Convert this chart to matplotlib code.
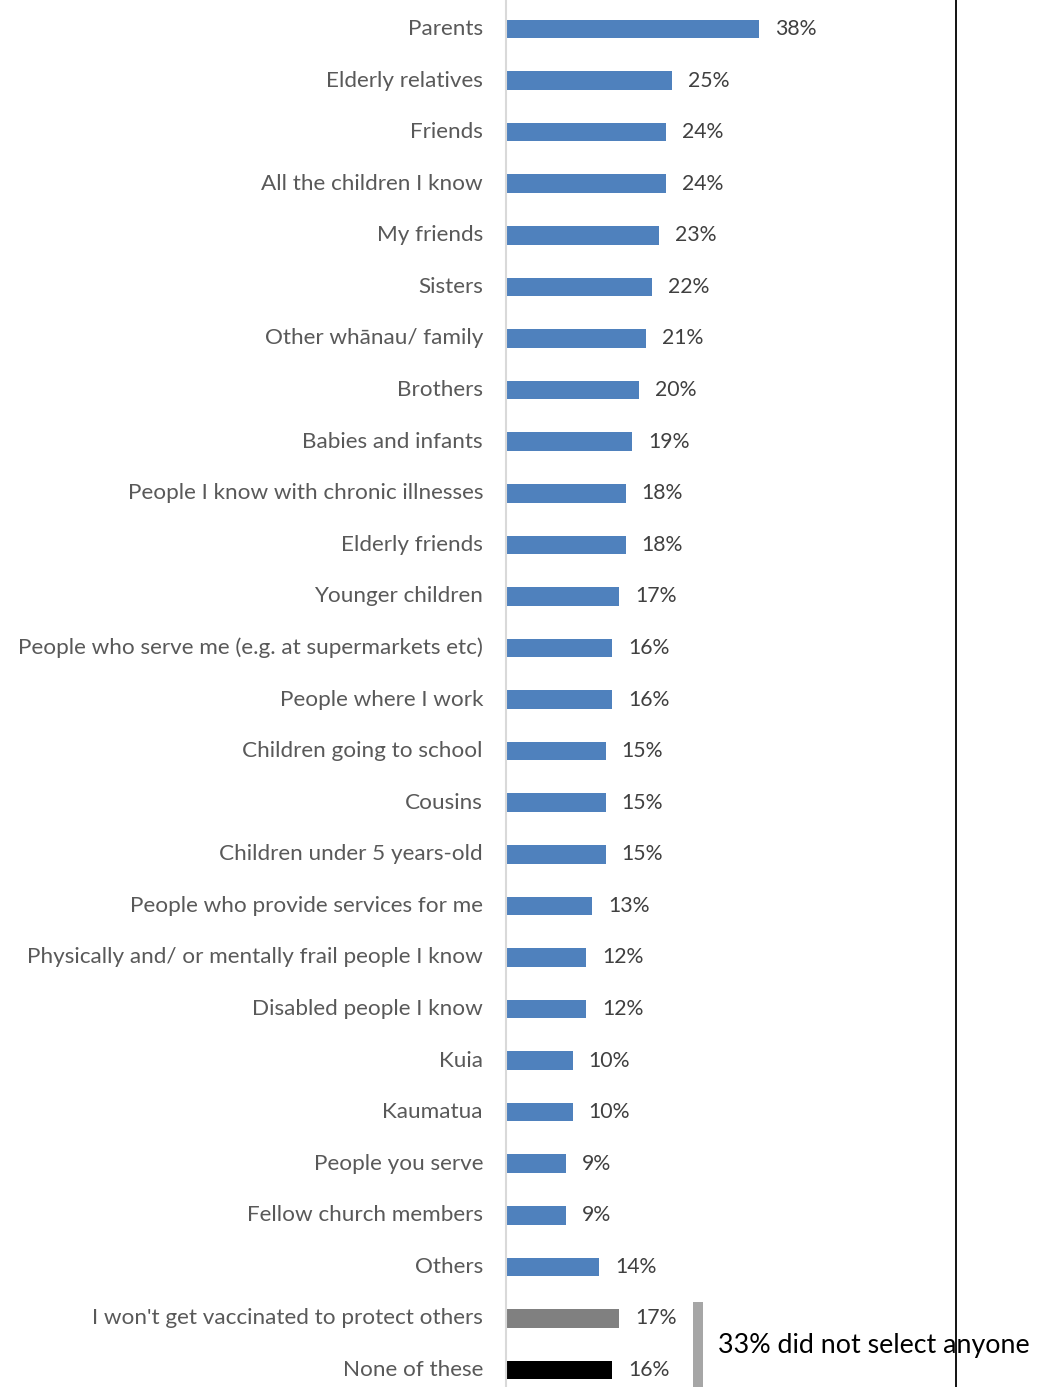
import matplotlib
matplotlib.use("Agg")
import matplotlib.pyplot as plt
from matplotlib.lines import Line2D
from matplotlib.patches import Rectangle

categories = [
    "Parents", "Elderly relatives", "Friends", "All the children I know",
    "My friends", "Sisters", "Other whānau/ family", "Brothers",
    "Babies and infants", "People I know with chronic illnesses",
    "Elderly friends", "Younger children",
    "People who serve me (e.g. at supermarkets etc)", "People where I work",
    "Children going to school", "Cousins", "Children under 5 years-old",
    "People who provide services for me",
    "Physically and/ or mentally frail people I know",
    "Disabled people I know", "Kuia", "Kaumatua", "People you serve",
    "Fellow church members", "Others",
    "I won't get vaccinated to protect others", "None of these",
]
values = [38, 25, 24, 24, 23, 22, 21, 20, 19, 18, 18, 17, 16, 16, 15, 15, 15,
          13, 12, 12, 10, 10, 9, 9, 14, 17, 16]
bar_colors = ["#4F81BD"] * 25 + ["#808080", "#000000"]
note_text = "33% did not select anyone"

W, H = 1048, 1387
fig = plt.figure(figsize=(W / 100, H / 100), dpi=100)
fig.patch.set_facecolor("white")

x0 = 506
px_per_pct = 6.65
ax = fig.add_axes([x0 / W, 0, 1 - x0 / W, 1])
ax.set_xlim(0, (W - x0) / px_per_pct)

row = 51.58
first = 29
n = len(categories)
ax.set_ylim(n - 1 + (H - (first + row * (n - 1))) / row, -first / row)

ypos = list(range(n))
ax.barh(ypos, values, height=0.36, color=bar_colors, edgecolor="none")

font = "Lato"
for y, v, lab in zip(ypos, values, categories):
    ax.text(v + 16 / px_per_pct, y, f"{v}%", va="center", ha="left",
            fontsize=15.3, color="#404040", family=font)
    fig.text((x0 - 23) / W, 1 - (first + row * y) / H, lab, va="center",
             ha="right", fontsize=16.2, color="#595959", family=font)

for s in ax.spines.values():
    s.set_visible(False)
ax.set_xticks([])
ax.set_yticks([])

# zero axis line
fig.add_artist(Line2D([x0 / W, x0 / W], [0, 1], color="#D9D9D9", lw=1.5))

# bracket bar for the last two rows and its note
fig.add_artist(Rectangle((693 / W, 0), 10 / W, (H - 1302) / H,
                         transform=fig.transFigure, color="#A6A6A6", lw=0))
fig.text(718 / W, 1 - 1346 / H, note_text, va="center", ha="left",
         fontsize=19.3, color="#000000", family=font)

# frame edge
fig.add_artist(Line2D([956 / W, 956 / W], [0, 1], color="#000000", lw=1.3))

fig.savefig("out.png", dpi=100, facecolor="white")
